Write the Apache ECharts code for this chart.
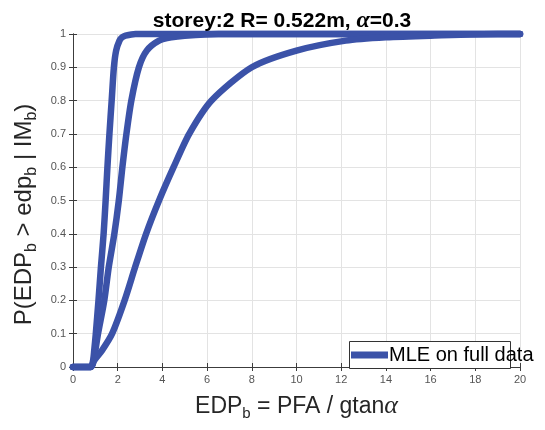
<!DOCTYPE html>
<html>
<head>
<meta charset="utf-8">
<script src="https://cdn.jsdelivr.net/npm/echarts@6/dist/echarts.min.js"></script>
<style>
  html, body { margin: 0; padding: 0; background: #fff; }
  #chart { width: 545px; height: 430px; }
</style>
</head>
<body>
<div id="chart"></div>
<script>
// probability levels, with the EDP value of each curve at that level
const probLevels = [0, 0, 0.02, 0.05, 0.1, 0.2, 0.3, 0.4, 0.5, 0.6, 0.7, 0.8, 0.9, 0.95, 0.98, 0.99, 0.995, 1, 1];
const curveSteepEdp = [0, 0.8, 0.9, 0.95, 1.02, 1.14, 1.25, 1.37, 1.46, 1.54, 1.63, 1.73, 1.83, 1.93, 2.08, 2.2, 2.35, 2.8, 20];
const curveMidEdp = [0, 0.8, 0.92, 1.0, 1.12, 1.4, 1.6, 1.85, 2.05, 2.21, 2.39, 2.61, 2.95, 3.3, 3.85, 4.4, 5.0, 6.5, 20];
const curveWideEdp = [0, 0.8, 0.95, 1.3, 1.75, 2.31, 2.78, 3.27, 3.85, 4.5, 5.2, 6.2, 8.0, 10.0, 12.2, 14.0, 16.0, 19.0, 20];
const seriesName = "MLE on full data";

const lineColor = "#3b52a8";
const axisColor = "#3c3c3c";
const labelColor = "#555555";
const gridColor = "#e3e3e3";
const sansFont = "Liberation Sans, Arial, sans-serif";
const serifFont = "Liberation Serif, Times New Roman, serif";

function toPoints(edp) {
    return edp.map((x, i) => [x, probLevels[i]]);
}

function makeCurve(edp) {
    return {
        name: seriesName,
        type: "line",
        data: toPoints(edp),
        showSymbol: false,
        smooth: 0.25,
        clip: false,
        lineStyle: { color: lineColor, width: 6.5, cap: "round", join: "round" },
        itemStyle: { color: lineColor },
    };
}

const chart = echarts.init(document.getElementById("chart"), null, { renderer: "canvas" });

const option = {
    animation: false,
    backgroundColor: "#ffffff",
    title: {
        text: "{b|storey:2 R= 0.522m, }{a|α}{b|=0.3}",
        left: 277,
        top: 4,
        textAlign: "center",
        textStyle: {
            rich: {
                b: { fontSize: 21, fontWeight: "bold", fontFamily: sansFont, color: "#000" },
                a: { fontSize: 24, fontStyle: "italic", fontFamily: serifFont, color: "#000" },
            },
        },
    },
    legend: {
        data: [seriesName],
        left: 351,
        top: 345,
        icon: "rect",
        itemWidth: 37,
        itemHeight: 7,
        itemGap: 0,
        padding: 0,
        z: 5,
        textStyle: { fontSize: 20, fontFamily: sansFont, color: "#000", padding: [0, 0, 0, -4] },
    },
    graphic: [
        {
            type: "rect",
            z: 4,
            shape: { x: 349.5, y: 341.5, width: 161, height: 27 },
            style: { fill: "#ffffff", stroke: "#333333", lineWidth: 1 },
        },
    ],
    grid: { left: 73, right: 25, top: 34, bottom: 63 },
    xAxis: [
        {
            type: "value",
            min: 0,
            max: 20,
            interval: 2,
            position: "bottom",
            name: "{t|EDP}{s|b}{t| = PFA / gtan}{a|α}",
            nameLocation: "middle",
            nameGap: 25,
            nameTextStyle: {
                rich: {
                    t: { fontSize: 23, fontFamily: sansFont, color: "#262626" },
                    s: { fontSize: 15, fontFamily: sansFont, color: "#262626", padding: [14, 0, 0, 0] },
                    a: { fontSize: 26, fontStyle: "italic", fontFamily: serifFont, color: "#262626" },
                },
            },
            axisLine: { show: true, lineStyle: { color: axisColor, width: 1 } },
            axisTick: { show: true, inside: true, length: 4, lineStyle: { color: axisColor } },
            axisLabel: { fontSize: 11, fontFamily: sansFont, color: labelColor, margin: 7 },
            splitLine: { show: true, lineStyle: { color: gridColor, width: 1 } },
        },
        {
            type: "value",
            min: 0,
            max: 20,
            interval: 2,
            position: "top",
            axisLine: { show: true, lineStyle: { color: axisColor, width: 1 } },
            axisTick: { show: true, inside: true, length: 4, lineStyle: { color: axisColor } },
            axisLabel: { show: false },
            splitLine: { show: false },
        },
    ],
    yAxis: [
        {
            type: "value",
            min: 0,
            max: 1,
            interval: 0.1,
            position: "left",
            name: "{t|P(EDP}{s|b}{t| > edp}{s|b}{t| | IM}{s|b}{t|)}",
            nameLocation: "middle",
            nameRotate: 90,
            nameGap: 33,
            nameTextStyle: {
                padding: [0, 28, 0, 0],
                rich: {
                    t: { fontSize: 24, fontFamily: sansFont, color: "#262626" },
                    s: { fontSize: 16, fontFamily: sansFont, color: "#262626", padding: [15, 0, 0, 0] },
                },
            },
            axisLine: { show: true, lineStyle: { color: axisColor, width: 1 } },
            axisTick: { show: true, inside: true, length: 4, lineStyle: { color: axisColor } },
            axisLabel: {
                fontSize: 11,
                fontFamily: sansFont,
                color: labelColor,
                margin: 7,
                formatter: (v) => (v === 0 || v === 1 ? String(v) : v.toFixed(1)),
            },
            splitLine: { show: true, lineStyle: { color: gridColor, width: 1 } },
        },
        {
            type: "value",
            min: 0,
            max: 1,
            interval: 0.1,
            position: "right",
            axisLine: { show: true, lineStyle: { color: axisColor, width: 1 } },
            axisTick: { show: true, inside: true, length: 4, lineStyle: { color: axisColor } },
            axisLabel: { show: false },
            splitLine: { show: false },
        },
    ],
    series: [makeCurve(curveSteepEdp), makeCurve(curveMidEdp), makeCurve(curveWideEdp)],
};

chart.setOption(option);
</script>
</body>
</html>
